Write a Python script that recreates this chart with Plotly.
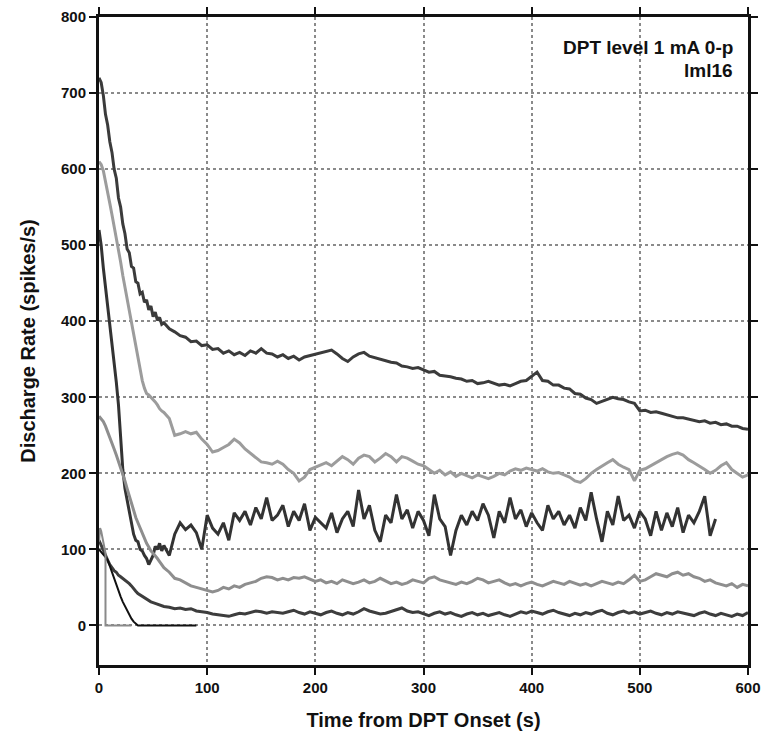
import plotly.graph_objects as go

# time bases (s)
t_early = list(range(0, 60, 2))
t_late = list(range(60, 605, 5))
t_late_short = list(range(60, 575, 5))

# curve 1 - dark, top
rate1_early = [720, 714, 697, 672, 658, 636, 622, 600, 588, 562, 550, 528, 515, 495, 490,
               472, 470, 452, 450, 436, 438, 425, 428, 415, 420, 406, 412, 401, 405, 396]
rate1_late = [398, 390, 386, 381, 379, 373, 374, 368, 369, 363, 364, 358, 361, 356, 359,
              355, 361, 358, 364, 358, 357, 353, 356, 351, 354, 349, 353, 355, 357, 359,
              361, 362, 357, 351, 347, 353, 357, 359, 354, 352, 349, 348, 346, 345, 341,
              340, 338, 339, 336, 333, 334, 329, 328, 327, 325, 324, 321, 322, 318, 319,
              321, 318, 316, 317, 315, 318, 321, 322, 327, 333, 322, 321, 316, 316, 312,
              311, 305, 304, 299, 297, 292, 295, 298, 300, 298, 297, 294, 292, 282, 283,
              280, 281, 279, 277, 276, 273, 273, 271, 270, 268, 269, 266, 267, 264, 265,
              262, 262, 259, 258]

# curve 2 - light grey
rate2_early = [610, 606, 598, 585, 570, 555, 540, 525, 512, 495, 478, 460, 445, 425, 412,
               398, 385, 370, 352, 338, 322, 312, 305, 303, 300, 298, 294, 290, 285, 282]
rate2_late = [280, 272, 250, 252, 255, 252, 254, 245, 238, 228, 230, 234, 238, 245, 240,
              232, 226, 220, 215, 214, 212, 216, 212, 205, 200, 190, 195, 205, 208, 210,
              214, 210, 216, 222, 218, 212, 220, 224, 222, 215, 220, 226, 222, 215, 222,
              220, 216, 212, 210, 205, 200, 204, 198, 202, 196, 200, 197, 194, 198, 195,
              193, 196, 200, 198, 203, 206, 204, 207, 205, 203, 206, 202, 200, 201, 198,
              195, 190, 188, 193, 200, 205, 210, 214, 218, 212, 208, 205, 190, 204, 206,
              210, 215, 218, 222, 225, 227, 224, 218, 214, 210, 205, 200, 204, 210, 214,
              205, 200, 195, 198]

# curve 3 - dark, noisy, ends at 570 s
rate3_early = [520, 500, 470, 445, 420, 395, 372, 350, 320, 290, 245, 205, 180, 165, 150,
               130, 120, 112, 110, 100, 98, 92, 88, 80, 86, 92, 104, 100, 108, 98]
rate3_late = [105, 92, 120, 135, 126, 132, 122, 100, 145, 128, 120, 135, 112, 148, 138,
              150, 132, 155, 140, 168, 138, 145, 158, 130, 150, 138, 160, 125, 142, 135,
              128, 148, 122, 140, 150, 130, 178, 140, 158, 125, 110, 145, 135, 172, 140,
              152, 128, 150, 138, 118, 172, 140, 130, 92, 125, 145, 132, 150, 138, 160,
              145, 115, 150, 135, 168, 140, 152, 130, 148, 135, 125, 158, 140, 150, 132,
              145, 128, 155, 138, 175, 140, 110, 150, 132, 170, 138, 145, 128, 150, 140,
              118, 150, 125, 148, 130, 155, 122, 145, 135, 150, 170, 118, 140]

# curve 4 - grey, lower
rate4_early = [275, 272, 268, 262, 255, 248, 240, 232, 224, 216, 207, 200, 190, 180, 170,
               160, 152, 142, 135, 128, 120, 114, 108, 103, 98, 95, 92, 88, 84, 80]
rate4_late = [76, 70, 62, 60, 56, 52, 50, 48, 45, 44, 46, 50, 48, 52, 50,
              54, 56, 58, 62, 64, 63, 60, 62, 60, 63, 62, 64, 61, 58, 60,
              56, 58, 55, 60, 58, 55, 57, 60, 56, 58, 62, 58, 55, 57, 54,
              56, 60, 58, 56, 62, 64, 60, 58, 56, 54, 57, 55, 58, 62, 60,
              56, 58, 60, 56, 53, 55, 52, 55, 57, 54, 52, 55, 58, 56, 54,
              58, 55, 53, 55, 52, 55, 58, 56, 54, 57, 55, 60, 66, 58, 60,
              64, 68, 66, 64, 68, 70, 66, 68, 64, 62, 58, 60, 56, 54, 52,
              55, 50, 54, 52]

# curve 5 - dark, lowest
rate5_early = [112, 105, 98, 92, 86, 80, 76, 72, 70, 66, 64, 62, 60, 57, 55,
               52, 48, 45, 42, 40, 38, 36, 34, 33, 31, 30, 29, 28, 27, 26]
rate5_late = [25, 24, 22, 23, 21, 22, 19, 18, 17, 15, 14, 13, 12, 14, 16,
              15, 17, 19, 18, 16, 18, 17, 16, 18, 20, 17, 15, 18, 16, 14,
              17, 19, 16, 14, 17, 15, 18, 22, 19, 17, 15, 16, 18, 20, 23,
              19, 17, 18, 15, 13, 16, 18, 15, 17, 14, 12, 15, 17, 14, 16,
              13, 15, 17, 14, 12, 15, 18, 16, 19, 17, 15, 18, 20, 17, 15,
              13, 16, 14, 17, 15, 18, 20, 16, 14, 17, 19, 16, 18, 15, 17,
              19, 16, 14, 17, 15, 18, 16, 14, 13, 16, 18, 15, 13, 16, 14,
              12, 15, 13, 17]

# curve 6 - black, falls to zero
t6 = [0, 2, 4, 6, 8, 10, 12, 14, 16, 18, 20, 22, 24, 26, 28, 30, 32, 34, 36, 50, 70, 90]
rate6 = [100, 97, 93, 90, 86, 78, 69, 60, 52, 44, 38, 31, 25, 19, 14, 9, 5, 2, 0, 0, 0, 0]

# curve 7 - grey, drops to zero almost at once
t7 = [0, 1, 2, 3, 4, 5, 6, 6, 10, 15, 20, 25, 30]
rate7 = [110, 128, 124, 116, 108, 100, 95, 0, 0, 0, 0, 0, 0]

curves = [
    (t_early + t_late, rate1_early + rate1_late, "#3b3b3b", 3),
    (t_early + t_late, rate2_early + rate2_late, "#9c9c9c", 3),
    (t_early + t_late_short, rate3_early + rate3_late, "#333333", 3),
    (t_early + t_late, rate4_early + rate4_late, "#8e8e8e", 3),
    (t_early + t_late, rate5_early + rate5_late, "#3d3d3d", 3),
    (t6, rate6, "#111111", 2),
    (t7, rate7, "#8a8a8a", 2),
]

fig = go.Figure()
for x, y, col, w in curves:
    fig.add_trace(go.Scatter(x=x, y=y, mode="lines", line=dict(color=col, width=w),
                             showlegend=False, hoverinfo="skip"))

tick_font = dict(family="Liberation Sans", size=15, color="#111111", weight="bold")
title_font = dict(family="Liberation Sans", size=20, color="#111111", weight="bold")
axis_common = dict(
    showline=True, linecolor="#111111", linewidth=3, mirror="ticks",
    ticks="outside", ticklen=7, tickwidth=2, tickcolor="#111111",
    showgrid=True, gridcolor="#8a8a8a", gridwidth=1.5, griddash="dot",
    zeroline=False, tickfont=tick_font, automargin=False,
)

fig.update_xaxes(range=[0, 600], tickvals=[0, 100, 200, 300, 400, 500, 600],
                 title=dict(text="Time from DPT Onset (s)", standoff=18, font=title_font),
                 **axis_common)
fig.update_yaxes(range=[-52, 800], tickvals=[0, 100, 200, 300, 400, 500, 600, 700, 800],
                 title=dict(text="Discharge Rate (spikes/s)", standoff=20, font=title_font),
                 **axis_common)

note_font = dict(family="Liberation Sans", size=19, color="#111111", weight="bold")
fig.add_annotation(text="DPT level 1 mA 0-p", xref="paper", yref="paper", x=0.98, y=0.953,
                   xanchor="right", yanchor="middle", showarrow=False, font=note_font)
fig.add_annotation(text="lml16", xref="paper", yref="paper", x=0.98, y=0.918,
                   xanchor="right", yanchor="middle", showarrow=False, font=note_font)

fig.update_layout(width=765, height=735, margin=dict(l=99, r=17, t=17, b=70),
                  plot_bgcolor="white", paper_bgcolor="white")

fig.write_html("out.html", config={"displayModeBar": False},
               post_script="document.body.style.margin='0';")
